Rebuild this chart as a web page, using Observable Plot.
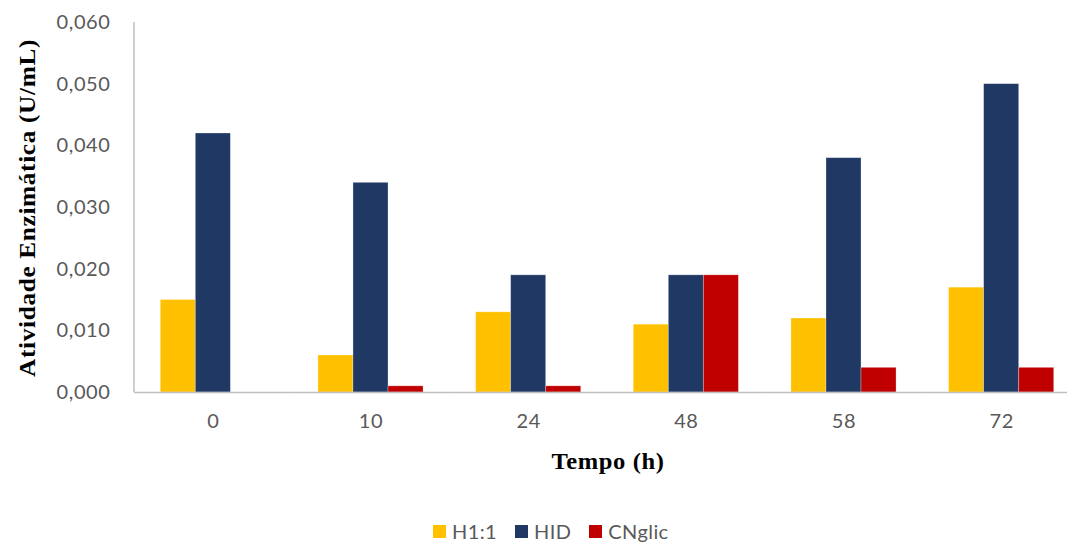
<!DOCTYPE html>
<html>
<head>
<meta charset="utf-8">
<script src="https://cdn.jsdelivr.net/npm/d3@7"></script>
<script src="https://cdn.jsdelivr.net/npm/@observablehq/plot@0.6"></script>
<style>
  html, body { margin: 0; padding: 0; background: #fff; overflow: hidden; width: 1067px; height: 543px; }
  #wrap { position: relative; width: 1067px; height: 543px; overflow: hidden; }
  #chart svg { max-width: none !important; }
  #legend { position: absolute; top: 519px; left: 433px; display: flex; gap: 18px;
            font-family: Lato, "Open Sans", sans-serif; font-size: 20px; letter-spacing: 0.4px; color: #595959; }
  #legend .item { display: flex; align-items: center; gap: 6px; }
  #legend .sw { width: 13px; height: 13px; display: inline-block; }
</style>
</head>
<body>
<div id="wrap"><div id="chart"></div><div id="legend"></div></div>
<script>
const times = ["0", "10", "24", "48", "58", "72"];
const series = ["H1:1", "HID", "CNglic"];
const h11 = [0.015, 0.006, 0.013, 0.011, 0.012, 0.017];
const hid = [0.042, 0.034, 0.019, 0.019, 0.038, 0.050];
const cnglic = [0.000, 0.001, 0.001, 0.019, 0.004, 0.004];
const colors = ["#FFC000", "#1F3864", "#C00000"];
const yTicks = [0, 0.01, 0.02, 0.03, 0.04, 0.05, 0.06];

const valuesBySeries = [h11, hid, cnglic];
const data = [];
times.forEach((t, i) => series.forEach((s, j) => data.push({time: t, series: s, value: valuesBySeries[j][i]})));

const plot = Plot.plot({
  width: 1080,
  height: 480,
  marginLeft: 134,
  marginRight: 0,
  marginTop: 22,
  marginBottom: 88,
  style: {fontFamily: "Lato, 'Open Sans', sans-serif", fontSize: "20px", letterSpacing: "0.6px", color: "#595959", background: "transparent", maxWidth: "none"},
  fx: {domain: times, padding: 0, round: false, label: null, tickSize: 0, tickPadding: 21},
  x: {domain: series, paddingInner: 0, paddingOuter: 0.75, round: false, axis: null},
  y: {domain: [0, 0.06], ticks: yTicks, tickFormat: d => d.toFixed(3).replace(".", ","), tickSize: 0, tickPadding: 24, label: null},
  color: {domain: series, range: colors},
  marks: [
    Plot.barY(data, {fx: "time", x: "series", y: "value", fill: "series", stroke: "#ffffff", strokeOpacity: 0.35, strokeWidth: 0.8}),
    Plot.ruleY([0], {stroke: "#BFBFBF", strokeWidth: 1.5})
  ]
});
plot.style.maxWidth = "none";
document.getElementById("chart").appendChild(plot);

const svg = d3.select(plot);
const y = plot.scale("y");
svg.append("line")
  .attr("x1", 134).attr("x2", 134)
  .attr("y1", y.apply(0.06)).attr("y2", y.apply(0))
  .attr("stroke", "#BFBFBF").attr("stroke-width", 1.5);

svg.append("text")
  .attr("transform", "translate(35,208) rotate(-90)")
  .attr("text-anchor", "middle")
  .attr("font-family", "'Liberation Serif', 'Times New Roman', serif").attr("font-weight", "bold")
  .attr("font-size", 23).attr("fill", "#000")
  .attr("textLength", 338).attr("lengthAdjust", "spacingAndGlyphs")
  .text("Atividade Enzimática (U/mL)");

svg.append("text")
  .attr("x", 608).attr("y", 469)
  .attr("text-anchor", "middle")
  .attr("font-family", "'Liberation Serif', 'Times New Roman', serif").attr("font-weight", "bold")
  .attr("font-size", 24).attr("fill", "#000")
  .attr("textLength", 113).attr("lengthAdjust", "spacingAndGlyphs")
  .text("Tempo (h)");

const legend = document.getElementById("legend");
series.forEach((s, i) => {
  const item = document.createElement("span");
  item.className = "item";
  const sw = document.createElement("span");
  sw.className = "sw";
  sw.style.background = colors[i];
  const label = document.createElement("span");
  label.textContent = s;
  item.appendChild(sw);
  item.appendChild(label);
  legend.appendChild(item);
});
</script>
</body>
</html>
